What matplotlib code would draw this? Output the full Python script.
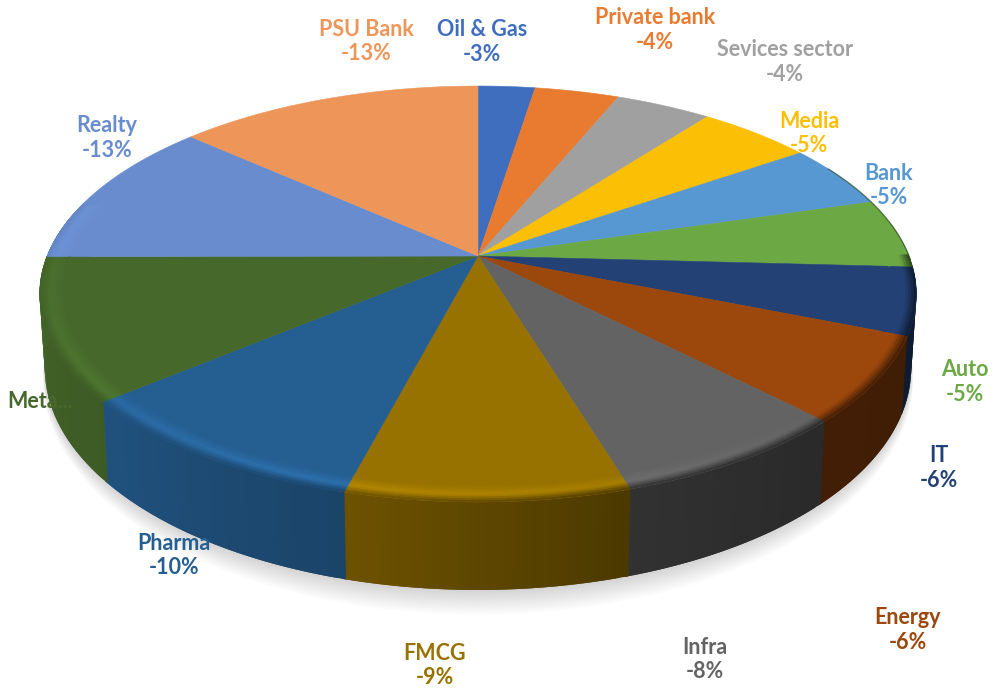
import matplotlib
matplotlib.use('Agg')
import matplotlib.pyplot as plt
from matplotlib.collections import PolyCollection
from matplotlib.colors import to_rgb
import numpy as np

# slices run clockwise starting from 12 o'clock
sectors = ['Oil & Gas', 'Private bank', 'Sevices sector', 'Media', 'Bank', 'Auto', 'IT',
           'Energy', 'Infra', 'FMCG', 'Pharma', 'Meta...', 'Realty', 'PSU Bank']
slice_sizes = [2.5, 3.7, 4.2, 5.0, 5.0, 5.4, 5.2, 6.6, 7.6, 8.8, 9.8, 11.0, 11.6, 13.4]
pct_labels = ['-3%', '-4%', '-4%', '-5%', '-5%', '-5%', '-6%',
              '-6%', '-8%', '-9%', '-10%', '', '-13%', '-13%']
colors = ['#3F6EBF', '#E97B30', '#A0A0A0', '#FBBF05', '#5797D2', '#6CA945', '#234175',
          '#9C470C', '#636363', '#977200', '#255E91', '#46692B', '#698CCE', '#EE9659']
label_x = [482, 655, 785, 809, 889, 965, 939, 908, 705, 435, 174, 40, 107, 366]
label_y = [30, 18, 50, 121, 173, 370, 456, 618, 647, 653, 543, 402, 126, 29]

# camera for the tilted disc, in pixels
CX, CY = 478, 256
B, A, K, DEPTH = 431, 201, 0.1826, 72
FONT = 'Lato'


def project(angle, r=1.0, z=0.0):
    # angle in degrees clockwise from the top of the disc
    t = np.radians(angle)
    u, v = r * np.sin(t), -r * np.cos(t)
    w = 1 - K * v
    return CX + B * u / (w * (1 + 0.012 * z)), CY + (A * v + DEPTH * z) / w


def side_shade(angle):
    a = (angle % 360)
    return np.interp(a, [90, 136, 163, 190, 195, 230, 270], [0.40, 0.42, 0.50, 0.69, 0.72, 0.87, 0.95])


def bevel_light(angle):
    a = (angle % 360)
    return np.interp(a, [90, 135, 160, 200, 270], [1.0, 1.0, 1.1, 1.2, 1.04])


def mix(c1, c2, t):
    return tuple((1 - t) * np.array(c1) + t * np.array(c2))


fig = plt.figure(figsize=(9.93, 6.90), dpi=100)
ax = fig.add_axes([0, 0, 1, 1])
ax.set_xlim(0, 993)
ax.set_ylim(690, 0)
ax.axis('off')

edges = np.cumsum([0] + slice_sizes) / sum(slice_sizes) * 360

# soft shadow under the pie, only towards the viewer
ring = np.arange(90, 271, 2.0)
for i in range(1, 15):
    near = np.clip(-np.cos(np.radians(ring)), 0, 1)
    sx, sy = project(ring, 1 + i * 0.0018 * near, 1)
    sy = sy + i * 1.2 * near
    ax.fill(np.r_[sx, CX], np.r_[sy, CY], color='black', alpha=0.012, lw=0, zorder=1)

# side wall, every strip overlaps the next so no seams show
quads = []
quad_colors = []
for i, col in enumerate(colors):
    rgb = to_rgb(col)
    steps = np.arange(edges[i], edges[i + 1] + 1, 1.0)
    for a0 in steps[:-1]:
        if a0 + 1 < 80 or a0 > 285:
            continue
        a1 = min(a0 + 2, edges[i + 1] + 0.5)
        x0, y0 = project(a0)
        x1, y1 = project(a1)
        x2, y2 = project(a1, 1, 1)
        x3, y3 = project(a0, 1, 1)
        quads.append([(x0, y0), (x1, y1), (x2, y2), (x3, y3)])
        quad_colors.append(tuple(np.array(rgb) * side_shade(a0 + 0.5)))
ax.add_collection(PolyCollection(quads, facecolors=quad_colors, linewidths=0, zorder=2))

# top face
for i, col in enumerate(colors):
    arc = np.arange(edges[i], edges[i + 1] + 0.5, 0.5)
    arc[-1] = min(arc[-1], edges[i + 1])
    x, y = project(arc)
    ax.fill(np.r_[CX, x], np.r_[CY, y], color=col, lw=0.4, zorder=3)

# rounded rim on the near half
band = np.linspace(0.945, 1.0, 10)
quads = []
quad_colors = []
for i, col in enumerate(colors):
    rgb = np.array(to_rgb(col))
    steps = np.arange(edges[i], edges[i + 1] + 1, 1.0)
    for a0 in steps[:-1]:
        mid = a0 + 0.5
        if mid < 90 or mid > 285:
            continue
        a1 = min(a0 + 2, edges[i + 1] + 0.3)
        light = np.clip(rgb * bevel_light(mid), 0, 1)
        dark = rgb * side_shade(mid)
        for k in range(len(band) - 1):
            r0 = band[k]
            r1 = band[min(k + 2, len(band) - 1)]
            t = ((band[k] + band[k + 1]) / 2 - band[0]) / (band[-1] - band[0])
            if t < 0.55:
                c = mix(rgb, light, t / 0.55)
            else:
                c = mix(light, dark, (t - 0.55) / 0.45)
            x0, y0 = project(a0, r0)
            x1, y1 = project(a1, r0)
            x2, y2 = project(a1, r1)
            x3, y3 = project(a0, r1)
            quads.append([(x0, y0), (x1, y1), (x2, y2), (x3, y3)])
            quad_colors.append(c)
ax.add_collection(PolyCollection(quads, facecolors=quad_colors, linewidths=0, zorder=4))

# thin dark rim on the far right
rim = np.arange(62, 92, 1.0)
rx, ry = project(rim)
ax.plot(rx, ry, color='#2c4a20', lw=1.0, alpha=0.6, zorder=4)

# labels
for name, pct, col, lx, ly in zip(sectors, pct_labels, colors, label_x, label_y):
    ax.text(lx, ly, name, color=col, family=FONT, fontsize=15.5, fontweight='bold',
            ha='center', va='center', zorder=6)
    if pct:
        ax.text(lx, ly + 24.5, pct, color=col, family=FONT, fontsize=15.5, fontweight='bold',
                ha='center', va='center', zorder=6)

fig.savefig('out.png', dpi=100, facecolor='white')
plt.close(fig)
